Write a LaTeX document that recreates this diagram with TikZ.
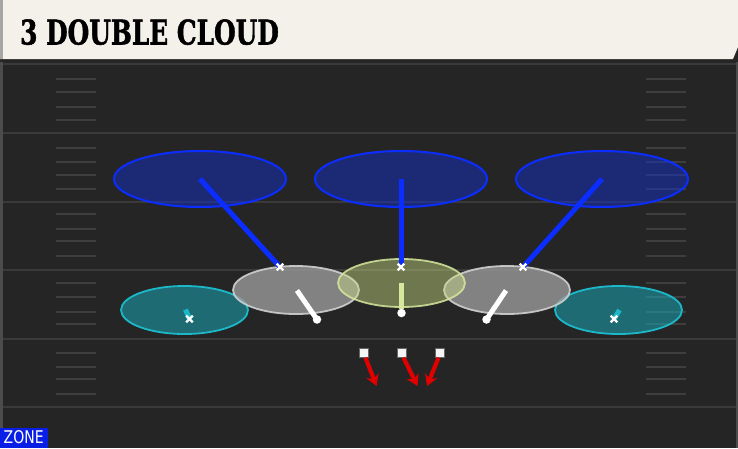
\documentclass[tikz,border=0pt]{standalone}
\usepackage{fontspec}
\usetikzlibrary{shapes.geometric,arrows.meta,calc}
\newfontfamily\titlefont{DejaVu Serif}[FakeBold=1.6]
\newfontfamily\labelfont{DejaVu Sans}
\definecolor{fieldbg}{HTML}{252525}
\definecolor{yardline}{HTML}{3A3A3A}
\definecolor{hashc}{HTML}{3E3E3E}
\definecolor{titlebg}{HTML}{F4F1EA}
\definecolor{zonefill}{HTML}{1430C8}
\definecolor{zoneline}{HTML}{0B2DFF}
\definecolor{grayfill}{HTML}{9A9A9A}
\definecolor{grayline}{HTML}{D0D0D0}
\definecolor{limefill}{HTML}{C8DC82}
\definecolor{limeline}{HTML}{D6E89E}
\definecolor{tealfill}{HTML}{1AA6B6}
\definecolor{tealline}{HTML}{1DB8C8}
\definecolor{routered}{HTML}{E00000}
\definecolor{zonebox}{HTML}{0A1FE6}
\tikzset{
  zonecloud/.style={ellipse, draw=zoneline, line width=2pt, fill=zonefill, fill opacity=0.5, minimum width=172pt, minimum height=56pt, inner sep=0pt},
  grayzone/.style={ellipse, draw=grayline, line width=1.8pt, fill=grayfill, fill opacity=0.8, draw opacity=0.9, minimum width=126pt, minimum height=48pt, inner sep=0pt},
  limezone/.style={ellipse, draw=limeline, line width=1.8pt, fill=limefill, fill opacity=0.45, draw opacity=0.85, minimum width=127pt, minimum height=48pt, inner sep=0pt},
  tealzone/.style={ellipse, draw=tealline, line width=1.8pt, fill=tealfill, fill opacity=0.55, minimum width=127pt, minimum height=48pt, inner sep=0pt},
  blueline/.style={draw=zoneline, line width=5pt},
  whiteline/.style={draw=white, line width=5pt},
  tealseg/.style={draw=tealline, line width=5pt},
  xmark/.style={draw=white, line width=2.4pt},
  playerdot/.style={circle, fill=white, minimum size=8.5pt, inner sep=0pt},
  recvsq/.style={rectangle, fill=white!92!gray, draw=black!60, line width=0.4pt, minimum size=9pt, inner sep=0pt},
  route/.style={draw=routered, line width=4.2pt, -{Stealth[length=11pt,width=13pt,inset=3.5pt]}},
  yard/.style={draw=yardline, line width=2pt},
  hashmark/.style={draw=hashc, line width=2pt},
}
\newcommand{\xmk}[1]{\draw[xmark] ($(#1)+(-3.3,-3.3)$) -- ($(#1)+(3.3,3.3)$); \draw[xmark] ($(#1)+(-3.3,3.3)$) -- ($(#1)+(3.3,-3.3)$);}
\begin{document}
\begin{tikzpicture}[x=1pt,y=-1pt]
\useasboundingbox (0,0) rectangle (738,448);
% field
\fill[fieldbg] (0,0) rectangle (738,448);
\fill[black!85] (0,58) rectangle (738,64);
\fill[black!70] (0,62) rectangle (2.5,448);
\fill[black!70] (735.5,62) rectangle (738,448);
% yard lines
\foreach \y in {64,133,201.5,270,338.5,407} {\draw[yard] (2.5,\y) -- (735.5,\y);}
% hashes
\foreach \y in {79,92,107,120,148,162,175,189,214,229,241,256,283,297,312,324,353,367,379,394} {
  \draw[hashmark] (56,\y) -- (96,\y);
  \draw[hashmark] (646,\y) -- (686,\y);
}
% title bar
\fill[titlebg] (0,0) -- (738,0) -- (738,47) -- (733,59) -- (0,59) -- cycle;
\fill[black!35] (0,0) rectangle (3,59);
\node[anchor=base west, inner sep=0pt, text=black] (title) at (20,44.5) {\scalebox{0.73}[1]{\titlefont\bfseries\fontsize{34}{34}\selectfont 3 DOUBLE CLOUD}};
% deep zones
\node[zonecloud] (zl) at (200,179) {};
\node[zonecloud] (zm) at (401,179) {};
\node[zonecloud] (zr) at (602,179) {};
% underneath zones
\node[tealzone] (tl) at (184.5,310) {};
\node[tealzone] (tr) at (618.5,310) {};
\node[grayzone] (gl) at (296,290) {};
\node[grayzone] (gr) at (507,290) {};
\node[limezone] (lm) at (401.5,283) {};
% defender positions
\coordinate (dl) at (280,267);
\coordinate (dm) at (401,267);
\coordinate (dr) at (523,267);
\coordinate (ctl) at (189.5,319);
\coordinate (ctr) at (614,319);
% blue drops
\draw[blueline] (zl.center) -- (dl);
\draw[blueline] (zm.center) -- (dm);
\draw[blueline] (zr.center) -- (dr);
\xmk{dl} \xmk{dm} \xmk{dr}
% teal corners
\coordinate (tls) at (185.5,309.5);
\coordinate (trs) at (619.5,310);
\draw[tealseg] (tls) -- (ctl);
\draw[tealseg] (trs) -- (ctr);
\xmk{ctl} \xmk{ctr}
% underneath defenders
\node[playerdot] (pl) at (317,319.5) {};
\node[playerdot] (pm) at (401.5,313) {};
\node[playerdot] (pr) at (486.5,319.5) {};
\coordinate (sl) at (297,290.5);
\coordinate (sm) at (401.5,283);
\coordinate (sr) at (506,290.5);
\draw[whiteline] (sl) -- (pl.center);
\draw[draw=limeline, line width=5pt] (sm) -- (pm.north);
\draw[whiteline] (sr) -- (pr.center);
% receivers
\node[recvsq] (r1) at (364,353) {};
\node[recvsq] (r2) at (402,353) {};
\node[recvsq] (r3) at (440,353) {};
\coordinate (e1) at (376.5,386);
\coordinate (e2) at (417.5,386);
\coordinate (e3) at (427,386);
\draw[route] (r1.south) ++(1.5,0) -- (e1);
\draw[route] (r2.south) ++(1.5,0) -- (e2);
\draw[route] (r3.south) ++(-1.5,0) -- (e3);
% zone label
\fill[zonebox] (0,428) rectangle (48,448);
\node[anchor=base west, inner sep=0pt, text=white] (zonelbl) at (3.5,443.5) {\scalebox{0.8}[1]{\labelfont\fontsize{17.5}{17.5}\selectfont ZONE}};
\end{tikzpicture}
\end{document}
